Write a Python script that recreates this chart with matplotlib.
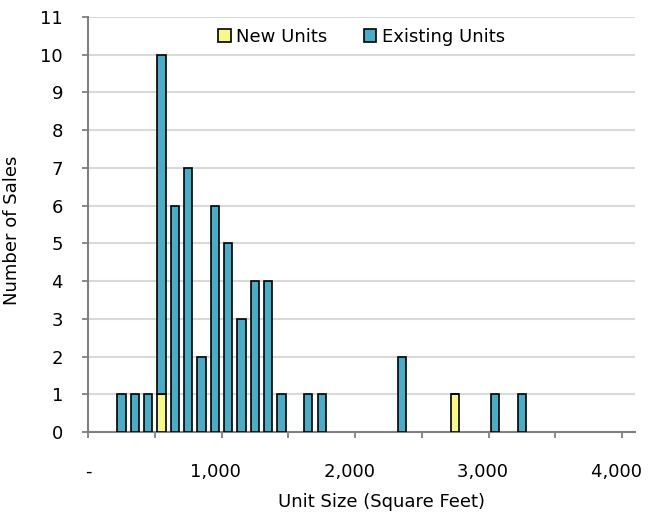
import matplotlib
matplotlib.use("Agg")
import matplotlib.pyplot as plt
from matplotlib.ticker import FixedLocator

plt.rcParams['font.family'] = ['DejaVu Sans']

sizes = [250, 350, 450, 550, 650, 750, 850, 950, 1050, 1150, 1250, 1350,
         1450, 1650, 1750, 2350, 2750, 3050, 3250]
new_units = [0, 0, 0, 1, 0, 0, 0, 0, 0, 0, 0, 0, 0, 0, 0, 0, 1, 0, 0]
existing_units = [1, 1, 1, 9, 6, 7, 2, 6, 5, 3, 4, 4, 1, 1, 1, 2, 0, 1, 1]
x_tick_vals = [0, 1000, 2000, 3000, 4000]
x_tick_labels = ["-", "1,000  ", "2,000  ", "3,000  ", "4,000  "]

fig = plt.figure(figsize=(6.62, 5.16), dpi=100)
ax = fig.add_axes([88/662, 1-432/516, (635-88)/662, (432-17)/516])

yellow = '#F7F78A'
teal = '#4BACC6'
w = 62
fs = 13
ax.bar(sizes, new_units, width=w, color=yellow, edgecolor='black', linewidth=1.2,
       label='New Units', zorder=3)
ax.bar(sizes, existing_units, width=w, bottom=new_units, color=teal, edgecolor='black',
       linewidth=1.2, label='Existing Units', zorder=3)

ax.set_xlim(0, 4097)
ax.set_ylim(0, 11)
ax.set_yticks(range(0, 12))
ax.yaxis.grid(True, color='#D9D9D9', linewidth=1.5, zorder=0)
ax.set_axisbelow(True)

ax.set_xticks(x_tick_vals)
ax.set_xticklabels(x_tick_labels)
ax.xaxis.set_minor_locator(FixedLocator([500, 1500, 2500, 3500]))
ax.tick_params(axis='x', which='both', length=4, width=1.3, color='#808080',
               labelsize=fs, pad=18)
ax.tick_params(axis='y', length=4, width=1.3, color='#808080', labelsize=fs, pad=14)

for s in ['top', 'right']:
    ax.spines[s].set_visible(False)
for s in ['left', 'bottom']:
    ax.spines[s].set_color('#808080')
    ax.spines[s].set_linewidth(1.5)

ax.set_xlabel('Unit Size (Square Feet)', fontsize=fs)
ax.set_ylabel('Number of Sales', fontsize=fs)
ax.xaxis.set_label_coords(0.537, -0.147)
ax.yaxis.set_label_coords(-0.122, 0.487)

leg = ax.legend(loc='upper center', bbox_to_anchor=(0.5, 1.0), ncol=2, frameon=False,
                fontsize=fs, handlelength=0.7, handleheight=0.7, handletextpad=0.3,
                columnspacing=2.0, borderaxespad=0.2)

fig.savefig('out.png', dpi=100)
